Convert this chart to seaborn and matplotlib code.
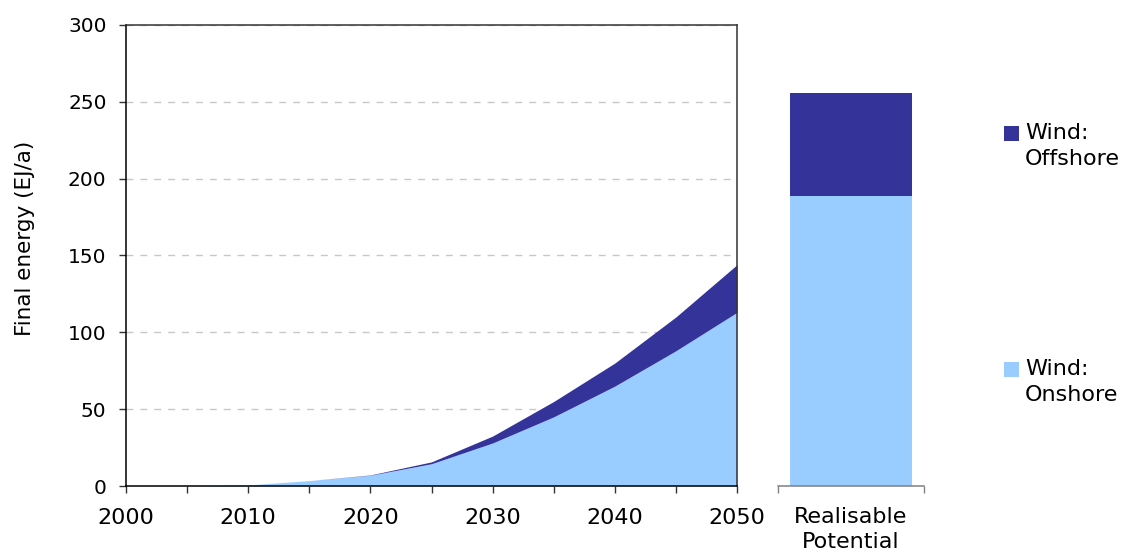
import matplotlib
matplotlib.use("Agg")
import matplotlib.pyplot as plt
from matplotlib.patches import Rectangle
import seaborn as sns
import pandas as pd

# ---- data ----
years = [2000, 2005, 2010, 2015, 2020, 2025, 2030, 2035, 2040, 2045, 2050]
onshore = [0, 0, 0.7, 3.5, 7, 14.5, 28, 45, 65, 88, 113]
offshore = [0, 0, 0, 0, 0.2, 1.2, 4.5, 10, 15, 22, 31]
potential_label = "Realisable\nPotential"
potential_onshore = 188.5
potential_offshore = 67.5
label_offshore = "Wind:\nOffshore"
label_onshore = "Wind:\nOnshore"
y_label = "Final energy (EJ/a)"
y_ticks = [0, 50, 100, 150, 200, 250, 300]
x_major = [2000, 2010, 2020, 2030, 2040, 2050]
x_minor = [2005, 2015, 2025, 2035, 2045]

color_onshore = "#99CCFF"
color_offshore = "#333399"

sns.set_style("white")
plt.rcParams["font.family"] = ["DejaVu Sans"]
plt.rcParams["text.color"] = "black"
plt.rcParams["axes.labelcolor"] = "black"
plt.rcParams["xtick.labelcolor"] = "black"
plt.rcParams["ytick.labelcolor"] = "black"

W, H = 1124, 553
fig = plt.figure(figsize=(W / 100, H / 100), dpi=100)
ax = fig.add_axes([126 / W, 67 / H, 611 / W, 461 / H])
ax2 = fig.add_axes([778 / W, 67 / H, 146 / W, 461 / H])

# ---- left: stacked area ----
df = pd.DataFrame({"year": years, "onshore": onshore, "offshore": offshore})
ax.stackplot(df["year"], df["onshore"], df["offshore"],
             colors=[color_onshore, color_offshore], linewidth=0, zorder=2)
ax.set_xlim(2000, 2050)
ax.set_ylim(0, 300)
ax.set_yticks(y_ticks)
ax.set_xticks(x_major)
ax.set_xticks(x_minor, minor=True)
ax.grid(axis="y", color="#c8c8c8", linestyle=(0, (5, 5)), linewidth=1)
ax.set_axisbelow(True)
ax.tick_params(axis="x", which="both", direction="out", length=5, width=1,
               color="#333333", bottom=True, pad=11, labelsize=16,
               labelcolor="black")
ax.tick_params(axis="y", which="both", direction="out", length=5, width=1,
               color="#333333", left=True, pad=9, labelsize=14.5,
               labelcolor="black")
for s in ["left", "bottom"]:
    ax.spines[s].set_color("black")
    ax.spines[s].set_linewidth(1.1)
for s in ["top", "right"]:
    ax.spines[s].set_color("#333333")
    ax.spines[s].set_linewidth(1.1)
ax.set_ylabel(y_label, fontsize=15.5, color="black")
ax.yaxis.set_label_coords(-0.149, 0.538)

# ---- right: realisable potential bar ----
bar_df = pd.DataFrame({"cat": [potential_label],
                       "total": [potential_onshore + potential_offshore],
                       "onshore": [potential_onshore]})
sns.barplot(data=bar_df, x="cat", y="total", color=color_offshore,
            saturation=1, width=0.84, linewidth=0, ax=ax2)
sns.barplot(data=bar_df, x="cat", y="onshore", color=color_onshore,
            saturation=1, width=0.84, linewidth=0, ax=ax2)
ax2.set_xlim(-0.5, 0.5)
ax2.set_ylim(0, 300)
ax2.set_yticks([])
ax2.set_xlabel("")
ax2.set_ylabel("")
ax2.set_xticks([-0.5, 0.5], minor=True)
ax2.tick_params(axis="x", which="minor", direction="out", length=5, width=1,
                color="#808080", bottom=True)
ax2.tick_params(axis="x", which="major", length=0, pad=15, labelsize=16,
                labelcolor="black")
for t in ax2.get_xticklabels():
    t.set_linespacing(1.3)
for s in ["left", "top", "right"]:
    ax2.spines[s].set_visible(False)
ax2.spines["bottom"].set_color("#808080")
ax2.spines["bottom"].set_linewidth(1.1)

# ---- legend (manual, square aligned to first line) ----
for lab, col, ytop in [(label_offshore, color_offshore, 126),
                       (label_onshore, color_onshore, 362)]:
    fig.add_artist(Rectangle((1004 / W, 1 - (ytop + 15) / H), 15 / W, 15 / H,
                             transform=fig.transFigure, facecolor=col,
                             edgecolor="none"))
    fig.text(1025 / W, 1 - (ytop - 3) / H, lab, ha="left", va="top",
             fontsize=16, linespacing=1.35, color="black")

fig.savefig("out.png", dpi=100)
